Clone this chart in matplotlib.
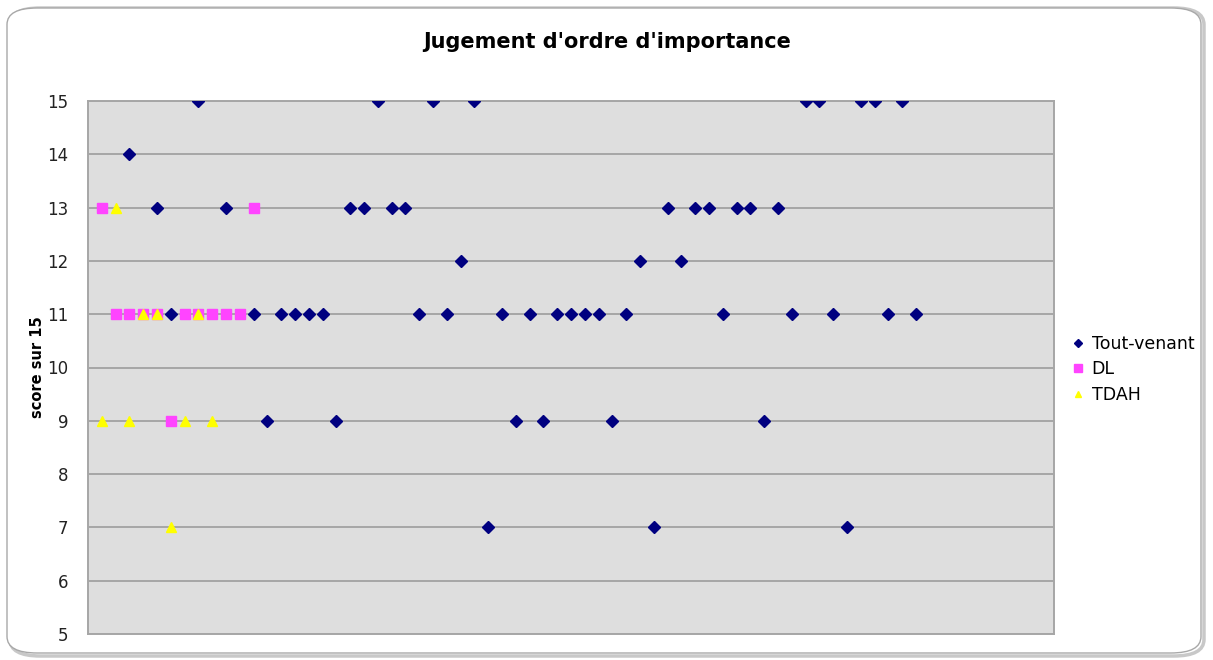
import matplotlib.pyplot as plt
from matplotlib.patches import FancyBboxPatch

# Tout-venant
tv_x = [3, 5, 6, 8, 10, 12, 13, 14, 15, 16, 17, 18, 19, 20, 21, 22, 23, 24, 25, 26,
        27, 28, 29, 30, 31, 32, 33, 34, 35, 36, 37, 38, 39, 40, 41, 42, 43, 44, 45,
        46, 47, 48, 49, 50, 51, 52, 53, 54, 55, 56, 57, 58, 59, 60]
tv_y = [14, 13, 11, 15, 13, 11, 9, 11, 11, 11, 11, 9, 13, 13, 15, 13, 13, 11, 15, 11,
        12, 15, 7, 11, 9, 11, 9, 11, 11, 11, 11, 9, 11, 12, 7, 13, 12, 13, 13,
        11, 13, 13, 9, 13, 11, 15, 15, 11, 7, 15, 15, 11, 15, 11]

# DL
dl_x = [1, 2, 3, 4, 5, 6, 7, 8, 9, 10, 11, 12]
dl_y = [13, 11, 11, 11, 11, 9, 11, 11, 11, 11, 11, 13]

# TDAH
tdah_x = [1, 2, 3, 4, 5, 6, 7, 8, 9]
tdah_y = [9, 13, 9, 11, 11, 7, 9, 11, 9]

yticks = list(range(5, 16))

W, H = 1213, 660
fig = plt.figure(figsize=(W / 100, H / 100), dpi=100)
fig.patch.set_facecolor("white")

# rounded chart border with a soft shadow
shadow = FancyBboxPatch((10 / W, 4 / H), 1194 / W, 648 / H,
                        boxstyle="round,pad=0,rounding_size=0.025",
                        transform=fig.transFigure, facecolor="none",
                        edgecolor="#c8c8c8", linewidth=2.5, zorder=-2)
border = FancyBboxPatch((7 / W, 7 / H), 1194 / W, 645 / H,
                        boxstyle="round,pad=0,rounding_size=0.025",
                        transform=fig.transFigure, facecolor="white",
                        edgecolor="#a8a8a8", linewidth=1.0, zorder=-1)
fig.patches.extend([shadow, border])

ax = fig.add_axes([88 / W, 1 - 634 / H, 966 / W, 533 / H])
ax.set_zorder(1)
ax.set_facecolor("#dedede")

ax.plot(tv_x, tv_y, linestyle="none", marker="D", markersize=6,
        color="#000080", label="Tout-venant", zorder=3)
ax.plot(dl_x, dl_y, linestyle="none", marker="s", markersize=7,
        color="#ff44ff", label="DL", zorder=3)
ax.plot(tdah_x, tdah_y, linestyle="none", marker="^", markersize=6.5,
        color="#ffff00", label="TDAH", zorder=4)

ax.set_xlim(0, 70)
ax.set_ylim(5, 15)
ax.set_yticks(yticks)
ax.set_xticks([])
ax.yaxis.grid(True, color="#a6a6a6", linewidth=1.4)
ax.set_axisbelow(True)
ax.tick_params(axis="y", length=0, pad=14, labelsize=12, labelcolor="#222222")
for s in ax.spines.values():
    s.set_color("#a6a6a6")
    s.set_linewidth(1.4)

ax.set_ylabel("score sur 15", fontsize=10.5, fontweight="bold", labelpad=2)
fig.text(607 / W, 1 - 42 / H, "Jugement d'ordre d'importance", ha="center",
         va="center", fontsize=15, fontweight="bold")

ax.legend(loc="upper left", bbox_to_anchor=(1056 / W, 1 - 319 / H),
          bbox_transform=fig.transFigure, frameon=False, fontsize=12.5,
          handlelength=0.7, handletextpad=0.45, labelspacing=0.45,
          markerscale=0.75)

fig.savefig("out.png", dpi=100, facecolor="white")
